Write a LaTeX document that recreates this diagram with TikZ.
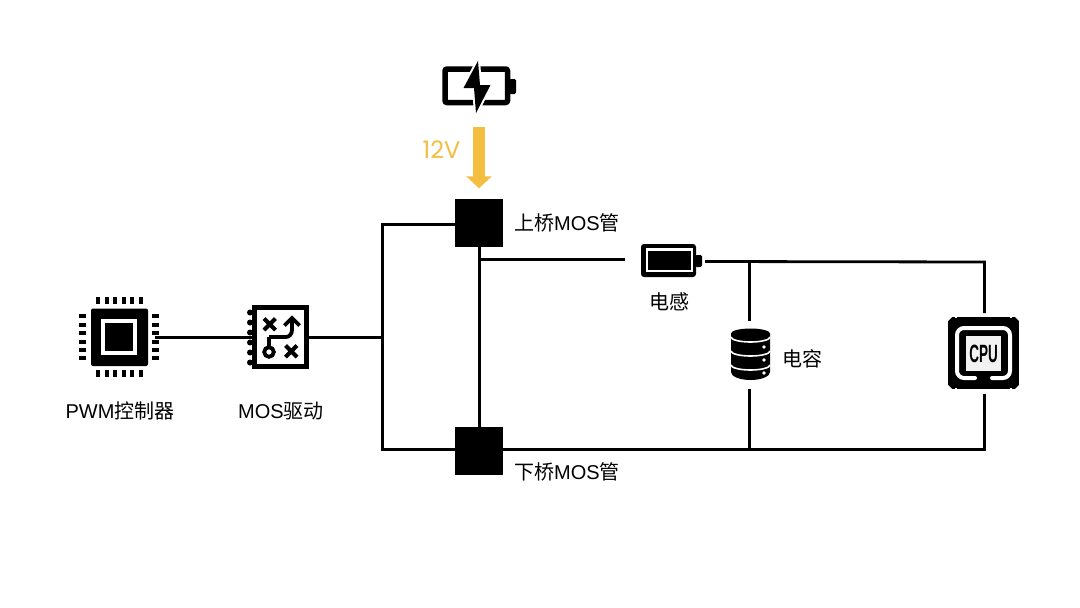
\documentclass[tikz,border=0pt]{standalone}
\usepackage{fontspec}
\setmainfont{Liberation Sans}
\newfontfamily\cjk{Noto Sans CJK SC}
\newfontfamily\numfont{Poppins}
\usetikzlibrary{arrows.meta, positioning}
\definecolor{volt}{HTML}{F4BE41}
\tikzset{
  wire/.style={draw=black,line width=2.8pt},
  power/.style={draw=volt,line width=12pt,-{Triangle[length=12pt,width=25pt]}},
  mos/.style={draw=none,fill=black,minimum size=48pt,inner sep=0pt,outer sep=0pt},
  slot/.style={draw=none,inner sep=0pt,outer sep=0pt},
  lab/.style={font=\fontsize{20}{20}\selectfont,inner sep=0pt},
  xmark/.style={draw=black,line width=4pt},
}
\begin{document}
\begin{tikzpicture}[x=1pt,y=-1pt]
	    \useasboundingbox (0,0) rectangle (1080,608);
	    \fill[white] (0,0) rectangle (1080,608);
	    % named places of the parts
	    \node[slot,minimum width=72pt,minimum height=72pt] (pwm) at (119,337.5) {};
	    \node[slot,minimum width=57pt,minimum height=64pt] (driver) at (280.5,337.5) {};
	    \node[slot,minimum width=74pt,minimum height=44pt] (source) at (479,85.5) {};
	    \node[mos] (hi) at (479,223.3) {};
	    \node[mos] (lo) at (479,451) {};
	    \node[slot,minimum width=80pt,minimum height=30pt] (ind) at (665,261.5) {};
	    \node[slot,minimum width=40pt,minimum height=68pt] (cap) at (749.5,355) {};
	    \node[slot,minimum width=72pt,minimum height=81pt] (cpu) at (984.5,353.5) {};
	    \coordinate (bus) at (382.5,337.5);
	    \coordinate (hitap) at (479.5,224.5);
	    \coordinate (lotap) at (479.5,449.5);
	    \coordinate (sw) at (479.5,259.5);
	    \coordinate (captop) at (749.5,261.5);
	    \coordinate (corner) at (984.5,262);
	    % wires
	    \draw[wire] (pwm) -- (driver);
	    \draw[wire] (driver) -- (bus);
	    \draw[wire] (hitap) -| (bus) |- (lotap);
	    \draw[wire] (hitap) -- (lotap);
	    \draw[wire] (sw) -- (sw -| ind.west);
	    \draw[wire] (ind.east) -- (corner) -- (cpu.north);
	    \draw[wire] (captop) -- (cap.north);
	    \draw[wire] (cap.south) -- (cap.south |- lotap);
	    \draw[wire] (lotap) -| (cpu.south);
	    \draw[power,shorten <=19.5pt,shorten >=11pt] (source.south) -- (hi.north);
	    % pwm chip
	    \fill[rounded corners=2pt] (91,308.5) rectangle (148,366);
	    \fill[white] (101,319) rectangle (137,355);
	    \fill (105,323) rectangle (133,351);
	    \foreach \i in {0,...,5} {
	      \fill (96+\i*8.55,297) rectangle +(4,7);
	      \fill (96+\i*8.55,370) rectangle +(4,7);
	      \fill (79,314.3+\i*8.4) rectangle +(7,4);
	      \fill (152,314.3+\i*8.4) rectangle +(7,4);
	    }
	    % mos driver
	    \foreach \i in {0,...,5} \fill (250,312.5+\i*10) circle (3pt);
	    \fill (252,305) rectangle (309,369);
	    \fill[white] (257,310) rectangle (304,364);
	    \draw[xmark] (264,318.5) -- (275.5,330) (275.5,318.5) -- (264,330);
	    \draw[xmark] (285.5,345.5) -- (297,357) (297,345.5) -- (285.5,357);
	    \draw[line width=3.8pt] (269,337) -- (286,337) to[out=0,in=-90] (292,330) -- (292,319);
	    \draw[line width=3.8pt] (284.5,325.5) -- (292,318) -- (299.5,325.5);
	    \draw[line width=3.8pt] (269,337) -- (269,347);
	    \draw[line width=3.8pt,fill=white] (269,352) circle (4.8pt);
	    % source battery
	    \draw[line width=5.5pt,rounded corners=2pt] (445,69) rectangle (507.5,102.5);
	    \fill[rounded corners=1.5pt] (509,79) rectangle (516,94);
	    \filldraw[draw=white,line width=4pt,miter limit=3] (478,61) -- (463.5,88) -- (474,88) -- (476,113) -- (490.5,85) -- (480,85) -- cycle;
	    \fill (478,61) -- (463.5,88) -- (474,88) -- (476,113) -- (490.5,85) -- (480,85) -- cycle;
	    % inductor battery
	    \fill[rounded corners=3pt] (641,244) rectangle (696,277);
	    \fill[rounded corners=1.5pt] (695,255) rectangle (702,267);
	    \fill[white] (646,248) rectangle (693,272);
	    \fill (648,251) rectangle (691,270);
	    % capacitor stack
	    \fill (731,333.5) -- (731,372) arc[start angle=180,end angle=360,x radius=19.5pt,y radius=8pt] -- (770,333.5) arc[start angle=0,end angle=180,x radius=19.5pt,y radius=5pt] -- cycle;
	    \foreach \y in {337,351,365}
	      \draw[white,line width=1.6pt] (731,\y) arc[start angle=180,end angle=360,x radius=19.5pt,y radius=5pt];
	    \foreach \y in {347,360,373} \fill[white] (764,\y) circle (1.8pt);
	    % cpu
	    \fill (948,317) rectangle (1019,389);
	    \foreach \sx/\sy in {948/317,1019/317,948/389,1019/389} {
	      \fill[white] (\sx,\sy) ++(0,{\sy<350 ? 4 : -4}) -- (\sx,\sy) -- ++({\sx<980 ? 4 : -4},0) -- cycle;
	      \fill[white] (\sx,\sy) ++({\sx<980 ? 7 : -7},0) rectangle ++({\sx<980 ? 2 : -2},{\sy<350 ? 1.2 : -1.2});
	    }
	    \draw[white,line width=4pt,line cap=round,rounded corners=7pt] (975,378) -- (957,378) -- (957,328) -- (1010,328) -- (1010,378) -- (992,378);
	    \fill[white!95!black] (966,336) rectangle (1001,371);
	    \node[inner sep=0pt,font=\fontsize{25}{25}\selectfont\bfseries,xscale=.54] (cpuname) at (983.5,353.5) {CPU};
	    % labels
	    \node[lab,text=volt,font=\numfont\fontsize{24}{24}\selectfont] (volts) at (441.5,150) {12V};
	    \node[lab] (hilab) at (567,222.7) {{\cjk 上桥}MOS{\cjk 管}};
	    \node[lab] (lolab) at (567,471.7) {{\cjk 下桥}MOS{\cjk 管}};
	    \node[lab] (indlab) at (669,301.5) {\cjk 电感};
	    \node[lab] (caplab) at (802,359) {\cjk 电容};
	    \node[lab] (pwmlab) at (120,411) {PWM{\cjk 控制器}};
	    \node[lab] (drvlab) at (281,411) {MOS{\cjk 驱动}};
	\end{tikzpicture}
\end{document}
